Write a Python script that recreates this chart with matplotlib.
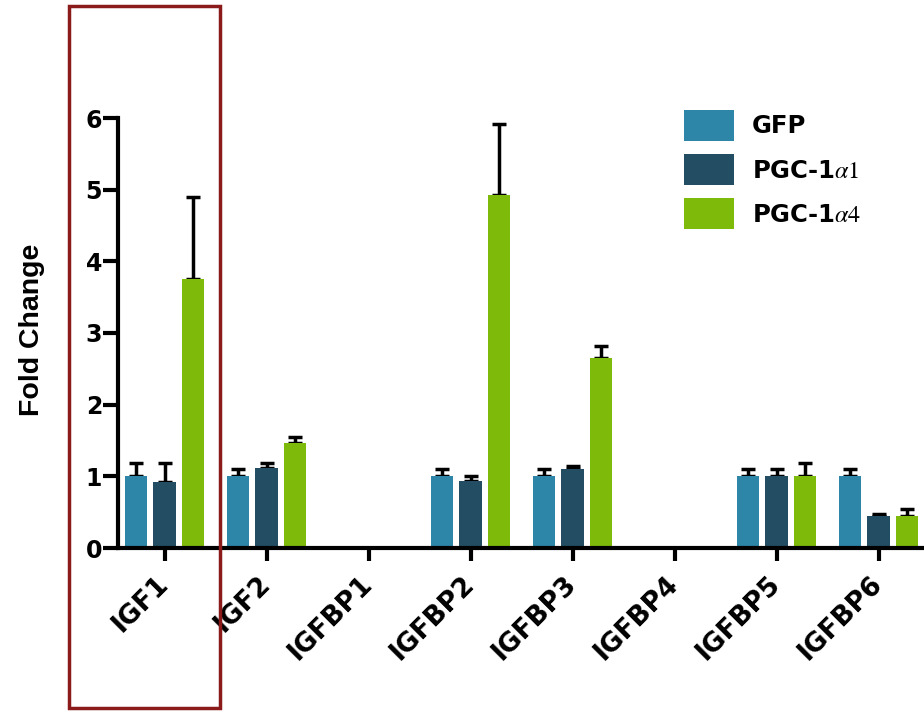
import matplotlib.pyplot as plt
import matplotlib.patches as mpatches
import numpy as np

plt.rcParams['font.family'] = ['DejaVu Sans']
plt.rcParams['mathtext.fontset'] = 'stix'

genes = ['IGF1', 'IGF2', 'IGFBP1', 'IGFBP2', 'IGFBP3', 'IGFBP4', 'IGFBP5', 'IGFBP6']
series = ['GFP', r'PGC-1$\alpha 1$', r'PGC-1$\alpha 4$']

gfp = [1.0, 1.0, np.nan, 1.0, 1.0, np.nan, 1.0, 1.0]
gfp_err = [0.18, 0.1, np.nan, 0.1, 0.1, np.nan, 0.1, 0.1]
pgc1a1 = [0.92, 1.12, np.nan, 0.93, 1.1, np.nan, 1.0, 0.45]
pgc1a1_err = [0.27, 0.06, np.nan, 0.07, 0.04, np.nan, 0.1, 0.02]
pgc1a4 = [3.75, 1.47, np.nan, 4.92, 2.65, np.nan, 1.0, 0.45]
pgc1a4_err = [1.15, 0.08, np.nan, 1.0, 0.17, np.nan, 0.18, 0.1]

colors = ['#2d86a8', '#234d63', '#7dba0a']


def main():
    fig = plt.figure(figsize=(9.24, 7.12), dpi=100)
    ax = fig.add_axes([118 / 924, 1 - 548 / 712, 1 - 118 / 924, (548 - 118) / 712])

    x = np.arange(len(genes))
    width = 0.22
    offsets = [-0.28, 0.0, 0.28]
    values = [gfp, pgc1a1, pgc1a4]
    errors = [gfp_err, pgc1a1_err, pgc1a4_err]

    for vals, errs, off, col, lab in zip(values, errors, offsets, colors, series):
        vals = np.array(vals)
        errs = np.array(errs)
        ax.bar(x + off, vals, width, color=col, label=lab, zorder=2)
        ax.errorbar(x + off, vals, yerr=[np.zeros_like(errs), errs], fmt='none',
                    ecolor='black', elinewidth=2.5, capsize=5, capthick=2.5, zorder=1)

    ax.set_xlim(-0.457, 7.445)
    ax.set_ylim(0, 6)
    ax.set_yticks(range(7))
    ax.set_xticks(x)
    ax.set_xticklabels(genes, rotation=45, ha='right', va='center', rotation_mode='anchor')

    for side in ['top', 'right']:
        ax.spines[side].set_visible(False)
    for side in ['left', 'bottom']:
        ax.spines[side].set_linewidth(3)
    ax.tick_params(axis='both', width=3)
    ax.tick_params(axis='y', length=11, pad=0.5, labelsize=17)
    ax.tick_params(axis='x', length=9, pad=14, labelsize=19)
    for t in ax.get_yticklabels() + ax.get_xticklabels():
        t.set_fontweight('bold')

    ax.set_ylabel('Fold Change', fontsize=20.5, fontweight='bold',
                  family='Liberation Sans')
    ax.yaxis.set_label_coords((45 - 118) / 806, (548 - 330) / 430)

    leg = ax.legend(loc='upper left', bbox_to_anchor=(662 / 924, 1 - 88 / 712),
                    bbox_transform=fig.transFigure, frameon=False, fontsize=17.5,
                    handlelength=2.05, handleheight=1.58, labelspacing=0.55,
                    handletextpad=0.75)
    for t in leg.get_texts():
        t.set_fontweight('bold')

    rect = mpatches.Rectangle((69 / 924, 1 - 708 / 712), (220 - 69) / 924, (708 - 6) / 712,
                              transform=fig.transFigure, fill=False,
                              edgecolor='#8b1a1a', linewidth=2.5)
    fig.patches.append(rect)

    fig.savefig('out.png', dpi=100)


if __name__ == '__main__':
    main()
